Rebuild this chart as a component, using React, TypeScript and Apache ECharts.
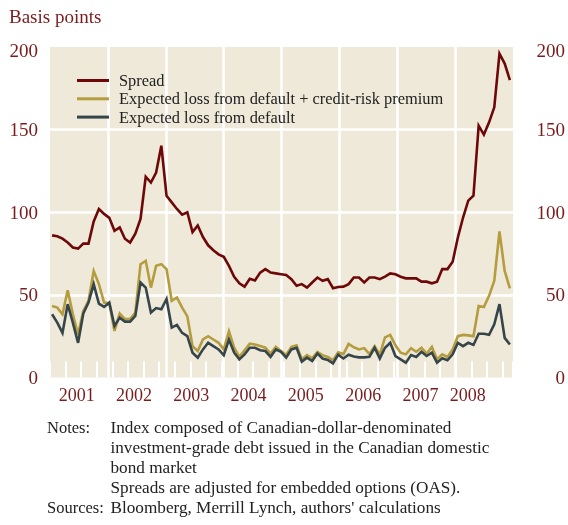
import { useEffect, useRef } from 'react';
import * as echarts from 'echarts';

const years = ['2001', '2002', '2003', '2004', '2005', '2006', '2007', '2008'];
const seriesNames = [
  'Spread',
  'Expected loss from default + credit-risk premium',
  'Expected loss from default',
];

// Monthly values, January 2001 onward (basis points)
const spread = [
  86, 85.5, 84, 81.7, 78.7, 78, 81, 81, 94.4, 102,
  99, 96.6, 88.8, 90.8, 84, 81.7, 87, 96, 121.5, 118,
  124, 140.3, 110, 106, 102, 98.5, 100, 88, 92, 85,
  80, 77, 74.5, 73, 67.5, 61, 57, 55, 59.7, 58.7,
  63.5, 65.6, 63.5, 63, 62.5, 62, 59.5, 55.5, 56.5, 54.4,
  57.5, 60.5, 58.5, 59.5, 54, 54.8, 55, 56.5, 60.5, 60.5,
  57.5, 60.5, 60.5, 59.5, 61, 63, 62.5, 61, 60, 60,
  60, 58, 58, 57, 58, 65.6, 65.6, 70, 84.7, 96.8,
  107, 110, 152.4, 147, 154.4, 163.5, 196, 190, 180,
];
const lossPlusPremium = [
  43.3, 42.3, 38.3, 52.8, 38.3, 26, 40.3, 46.4, 64.5, 56.5,
  45.3, 45, 28.2, 38.7, 35.3, 35.4, 39.3, 68.6, 70.6, 54.4,
  67.6, 68.6, 65.6, 46.4, 48.4, 42.3, 37, 19, 16, 23,
  25, 23, 21, 17, 28, 18, 12.5, 16.5, 20.5, 20,
  19, 18, 14.5, 18.5, 16, 13.6, 18.5, 19.5, 11, 13.6,
  11.6, 15.5, 13.5, 12.4, 10.5, 15.3, 14.2, 20.3, 18.3, 17,
  17.8, 14.2, 19, 13.8, 24.3, 25.8, 19.5, 15, 14, 17.7,
  15.6, 18, 14.4, 18.5, 11, 14, 12.4, 17, 25, 25.8,
  25.5, 25, 43.3, 42.7, 49.4, 58.5, 88.4, 64.5, 54,
];
const expectedLoss = [
  38.3, 33.2, 27, 44.4, 33, 21, 38.7, 45.3, 56.5, 44.7,
  42.7, 45.3, 31.2, 36.2, 33.8, 33.8, 37.3, 57.5, 54.4, 39.3,
  42, 41.3, 47.5, 30.2, 31.8, 27, 25, 15, 12, 17,
  21, 19, 17, 13.5, 23, 15, 11, 14, 18, 18,
  16.5, 16, 12.5, 17, 15.5, 12, 17, 18, 9.6, 12,
  10, 14.5, 11.5, 10.6, 8.5, 13.8, 11.5, 13.8, 12.7, 12.2,
  12.2, 12.5, 18, 11.5, 18, 21, 13, 11, 9, 13.6,
  12.4, 15.6, 13, 15, 9, 11.6, 10.4, 14, 21, 19,
  21, 19.7, 26.5, 26.5, 25.8, 32.2, 44.4, 24, 20,
];

const noteLines = [
  'Index composed of Canadian-dollar-denominated',
  'investment-grade debt issued in the Canadian domestic',
  'bond market',
  'Spreads are adjusted for embedded options (OAS).',
];
const sourceLine = "Bloomberg, Merrill Lynch, authors' calculations";

const FONT = '"Liberation Serif", "Times New Roman", serif';
const RED_TEXT = '#7a1c1c';
const COLORS = ['#6e0808', '#b59c3e', '#36454a'];
const BG = '#eee9d9';

const toPoints = (arr: number[]) => arr.map((v, i) => [i + 0.4, v]);

const yLabelFormatter = (v: number) => (v === 200 ? `{top|${v}}` : `${v}`);
const yRich = { top: { color: RED_TEXT, fontSize: 19, fontFamily: FONT, padding: [7, 0, 0, 0] } };

export default function App() {
  const ref = useRef<HTMLDivElement>(null);
  useEffect(() => {
    if (!ref.current) return;
    const chart = echarts.init(ref.current, undefined, { renderer: 'svg' });
    const seriesData = [spread, lossPlusPremium, expectedLoss];
    const noteFont = `17.2px ${FONT}`;
    const headFont = `16.5px ${FONT}`;
    const noteGraphics: any[] = [
      { type: 'text', left: 9, top: 7, style: { text: 'Basis points', font: `19px ${FONT}`, fill: RED_TEXT } },
      { type: 'text', x: 47, y: 427, style: { text: 'Notes:', font: headFont, fill: '#222', verticalAlign: 'middle' } },
      ...noteLines.map((t, k) => ({
        type: 'text', x: 110.5, y: 427 + k * 20,
        style: { text: t, font: noteFont, fill: '#222', verticalAlign: 'middle' },
      })),
      { type: 'text', x: 47, y: 507, style: { text: 'Sources:', font: headFont, fill: '#222', verticalAlign: 'middle' } },
      { type: 'text', x: 110.5, y: 507, style: { text: sourceLine, font: noteFont, fill: '#222', verticalAlign: 'middle' } },
    ];
    chart.setOption({
      animation: false,
      textStyle: { fontFamily: FONT },
      grid: [
        { left: 50, right: 55, top: 47, bottom: 147.5, show: true, backgroundColor: BG, borderWidth: 0 },
        { left: 48, right: 61.6, top: 47, bottom: 147.5, show: false },
      ],
      legend: {
        orient: 'vertical',
        left: 77,
        top: 72.5,
        padding: 0,
        itemWidth: 32,
        itemHeight: 3,
        itemGap: 2.3,
        icon: 'rect',
        data: seriesNames,
        textStyle: { fontFamily: FONT, fontSize: 16.4, color: '#222', padding: [0, 0, 0, 5] },
      },
      xAxis: [
        {
          gridIndex: 0, type: 'value', min: 0, max: 89, interval: 3, position: 'bottom',
          axisLine: { show: false }, axisLabel: { show: false }, splitLine: { show: false },
          axisTick: { show: true, inside: true, length: 16, lineStyle: { color: '#fff', width: 2 } },
        },
        {
          gridIndex: 0, type: 'value', min: 0, max: 89, interval: 3, position: 'top',
          axisLine: { show: false }, axisLabel: { show: false }, splitLine: { show: false },
          axisTick: { show: true, inside: true, length: 18, lineStyle: { color: '#fff', width: 2 } },
        },
        {
          gridIndex: 0, type: 'value', min: 0, max: 96, interval: 12, position: 'bottom',
          axisLine: { show: false }, axisLabel: { show: false }, axisTick: { show: false },
          splitLine: { show: true, showMinLine: false, showMaxLine: false, lineStyle: { color: '#fff', width: 2.5 } },
        },
        {
          gridIndex: 1, type: 'category', data: years, boundaryGap: true, position: 'bottom',
          axisLine: { show: false }, axisTick: { show: false }, splitLine: { show: false },
          axisLabel: {
            interval: 0,
            color: RED_TEXT, fontSize: 18, fontFamily: FONT, margin: 8.5,
            formatter: (v: string) => (v === years[years.length - 1] ? `{s|${v}}` : v),
            rich: { s: { color: RED_TEXT, fontSize: 18, fontFamily: FONT, padding: [0, 20, 0, 0] } },
          },
        },
      ],
      yAxis: [
        {
          gridIndex: 0, type: 'value', min: 0, max: 200, interval: 50, position: 'left',
          axisLine: { show: false }, axisTick: { show: false },
          axisLabel: { color: RED_TEXT, fontSize: 19, fontFamily: FONT, margin: 12, formatter: yLabelFormatter, rich: yRich },
          splitLine: { show: true, showMinLine: false, showMaxLine: false, lineStyle: { color: '#fff', width: 2.5 } },
        },
        {
          gridIndex: 0, type: 'value', min: 0, max: 200, interval: 50, position: 'right',
          axisLine: { show: false }, axisTick: { show: false }, splitLine: { show: false },
          axisLabel: { color: RED_TEXT, fontSize: 19, fontFamily: FONT, margin: 52, align: 'right', formatter: yLabelFormatter, rich: yRich },
        },
        { gridIndex: 1, type: 'value', show: false },
      ],
      series: seriesNames.map((name, k) => ({
        name,
        type: 'line',
        xAxisIndex: 0,
        yAxisIndex: 0,
        data: toPoints(seriesData[k]),
        symbol: 'none',
        color: COLORS[k],
        lineStyle: { color: COLORS[k], width: 2.6, join: 'miter' },
        z: 2 + k,
      })),
      graphic: noteGraphics,
    });
    return () => chart.dispose();
  }, []);
  return <div ref={ref} style={{ position: 'fixed', left: 0, top: 0, width: 568, height: 525 }} />;
}
